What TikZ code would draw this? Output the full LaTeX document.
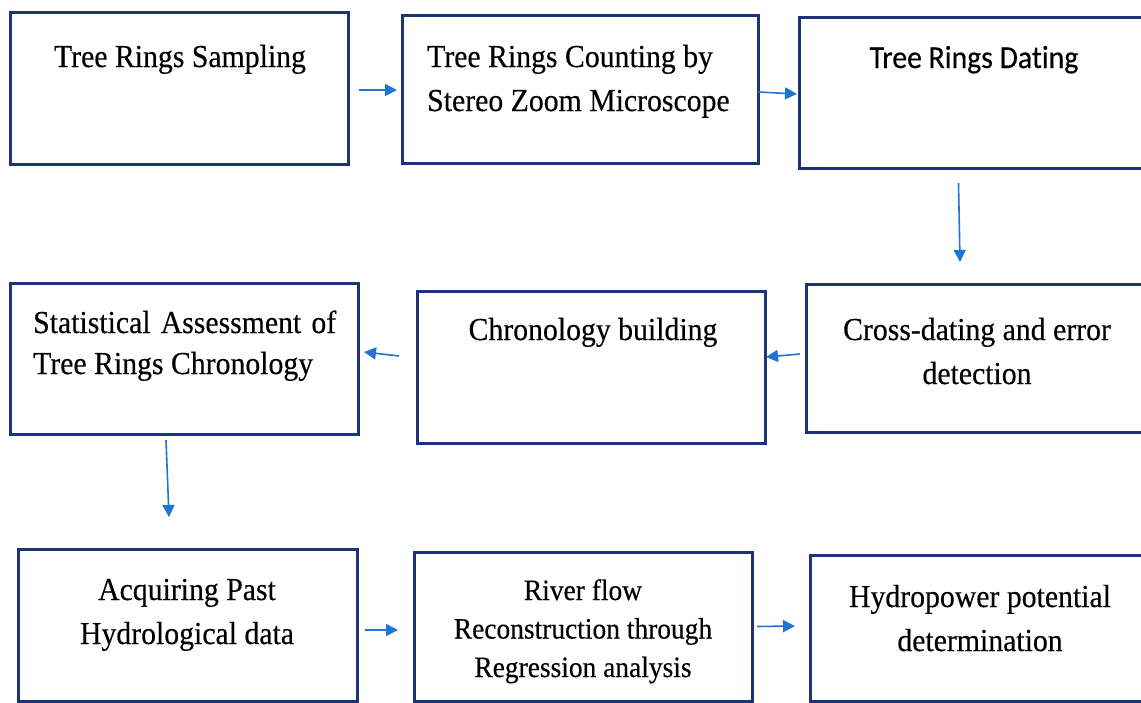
\documentclass[tikz,border=0pt]{standalone}
\usepackage{fontspec}
\setmainfont{Liberation Serif}[FakeStretch=0.93,FakeBold=0.35]
\newfontfamily\calibfont{Carlito}[FakeStretch=0.93,FakeBold=0.35,Ligatures=NoCommon]
\usetikzlibrary{arrows.meta}
\definecolor{boxblue}{RGB}{28,52,118}
\definecolor{arrblue}{RGB}{30,118,210}
\begin{document}
\begin{tikzpicture}[x=1pt,y=-1pt,
  box/.style={draw=boxblue, line width=3pt, inner sep=0pt, outer sep=0pt},
  txt/.style={inner sep=0pt, anchor=base, text=black, font=\fontsize{32}{44}\selectfont},
  arr/.style={draw=arrblue, line width=1.6pt, -{Triangle[length=12pt,width=12pt]}}]
\useasboundingbox (0,0) rectangle (1141,702);
\fill[white] (0,0) rectangle (1141,702);

% boxes
\node[box, minimum width=338pt, minimum height=152pt] (A) at (179,88) {};
\node[box, minimum width=356pt, minimum height=148pt] (B) at (580,89) {};
\node[box, minimum width=351pt, minimum height=151pt] (C) at (974.5,92.5) {};
\node[box, minimum width=344pt, minimum height=148pt] (D) at (978,358) {};
\node[box, minimum width=348pt, minimum height=152pt] (E) at (591,367) {};
\node[box, minimum width=348pt, minimum height=151pt] (F) at (184,358.5) {};
\node[box, minimum width=339pt, minimum height=152pt] (G) at (187.5,625) {};
\node[box, minimum width=338pt, minimum height=149pt] (H) at (583,626.5) {};
\node[box, minimum width=340pt, minimum height=146pt] (I) at (980,628) {};

% texts
\node[txt] (At) at (180,67) {Tree Rings Sampling};
\node[txt, anchor=base west] (Bt) at (427,67) {\begin{tabular}[t]{@{}l@{}}Tree Rings Counting by\\Stereo Zoom Microscope\end{tabular}};
\node[txt, font=\calibfont\fontsize{32}{44}\selectfont] (Ct) at (974,68) {Tree Rings Dating};
\node[txt] (Dt) at (977,340) {\begin{tabular}[t]{@{}c@{}}Cross-dating and error\\detection\end{tabular}};
\node[txt] (Et) at (593,340) {Chronology building};
\node[txt, anchor=base west, font=\fontsize{32}{41}\selectfont] (Ft) at (33,333) {\begin{tabular}[t]{@{}l@{}}\makebox[303pt][s]{Statistical Assessment of}\\Tree Rings Chronology\end{tabular}};
\node[txt] (Gt) at (187,600) {\begin{tabular}[t]{@{}c@{}}Acquiring Past\\Hydrological data\end{tabular}};
\node[txt, font=\fontsize{29.5}{38.5}\selectfont] (Ht) at (583,600) {\begin{tabular}[t]{@{}c@{}}River flow\\Reconstruction through\\Regression analysis\end{tabular}};
\node[txt] (It) at (980,607) {\begin{tabular}[t]{@{}c@{}}Hydropower potential\\determination\end{tabular}};

% connectors
\draw[arr] ([xshift=11pt,yshift=-2pt]A.east) -- ([xshift=-5pt,yshift=-1pt]B.west);
\draw[arr] ([yshift=-3pt]B.east) -- ([xshift=-2pt,yshift=-1.5pt]C.west);
\draw[arr] ([xshift=-16pt,yshift=-15pt]C.south) -- ([xshift=-18pt,yshift=22pt]D.north);
\draw[arr] ([xshift=-6pt,yshift=4pt]D.west) -- ([xshift=1pt,yshift=10pt]E.east);
\draw[arr] ([xshift=-18pt,yshift=11pt]E.west) -- ([xshift=6pt,yshift=6.5pt]F.east);
\draw[arr] ([xshift=-18pt,yshift=-6pt]F.south) -- ([xshift=-18.5pt,yshift=32pt]G.north);
\draw[arr] ([xshift=8pt,yshift=-5pt]G.east) -- ([xshift=-16pt,yshift=-3.5pt]H.west);
\draw[arr] ([xshift=5pt]H.east) -- ([xshift=-15pt,yshift=2pt]I.west);
\end{tikzpicture}
\end{document}
